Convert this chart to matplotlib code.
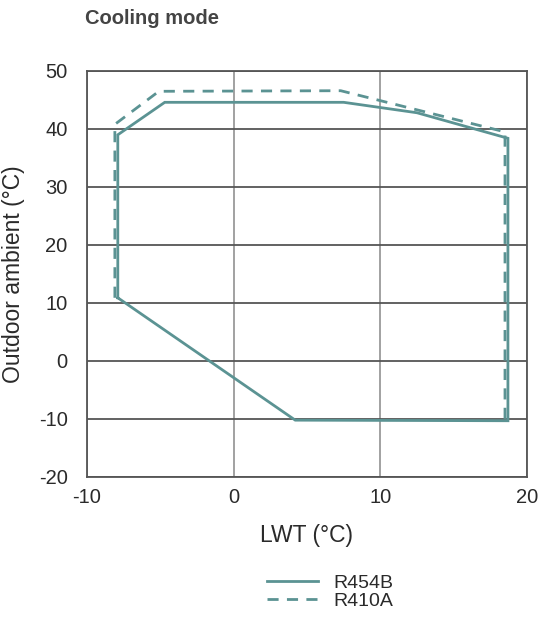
import matplotlib
matplotlib.use("Agg")
import matplotlib.pyplot as plt

# ─── Data (operating envelope, cooling mode) ─────────────────────
r454b_lwt = [-7.9, -7.9, -4.7, 7.5, 12.5, 18.7, 18.7, 4.2, -7.9]
r454b_amb = [10.9, 39.0, 44.6, 44.6, 42.8, 38.4, -10.3, -10.2, 10.9]

r410a_lwt = [-8.1, -8.1, -5.1, 7.3, 18.5, 18.5]
r410a_amb = [10.9, 40.8, 46.5, 46.6, 39.5, -10.2]

x_ticks = [-10, 0, 10, 20]
y_ticks = [-20, -10, 0, 10, 20, 30, 40, 50]

TEAL = "#5b9393"
TXT = "#2a2a2a"

plt.rcParams["font.family"] = ["Liberation Sans", "DejaVu Sans"]
plt.rcParams["axes.unicode_minus"] = False

fig = plt.figure(figsize=(5.41, 6.17), dpi=100)
ax = fig.add_axes([87 / 541, 1 - 477 / 617, 440 / 541, 406 / 617])

ax.plot(r454b_lwt, r454b_amb, color=TEAL, lw=2.0, solid_joinstyle="miter",
        label="R454B", zorder=3)
ax.plot(r410a_lwt, r410a_amb, color=TEAL, lw=2.0, ls=(0, (4, 3)),
        label="R410A", zorder=3)

ax.set_xlim(-10, 20)
ax.set_ylim(-20, 50)
ax.set_xticks(x_ticks)
ax.set_yticks(y_ticks)
ax.tick_params(axis="x", length=0, labelsize=14.5, labelcolor=TXT, pad=8)
ax.tick_params(axis="y", length=0, labelsize=14.5, labelcolor=TXT, pad=14)
for x in x_ticks:
    ax.axvline(x, color="#9a9a9a", lw=1.3, zorder=1)
for y in y_ticks:
    ax.axhline(y, color="#555555", lw=1.3, zorder=1)
for s in ax.spines.values():
    s.set_color("#555555")
    s.set_linewidth(1.3)

ax.set_xlabel("LWT (°C)", fontsize=16.5, color=TXT, labelpad=12)
ax.set_ylabel("Outdoor ambient (°C)", fontsize=16.5, color=TXT, labelpad=10)

fig.text(85 / 541, 1 - 18 / 617, "Cooling mode", fontsize=14.5, fontweight="bold",
         color="#444444", ha="left", va="center")

leg = fig.legend(loc="center", bbox_to_anchor=(330 / 541, 1 - 592 / 617),
                 frameon=False, fontsize=14, handlelength=2.6, handletextpad=0.8,
                 labelspacing=0.0, borderpad=0)
for t in leg.get_texts():
    t.set_color(TXT)

fig.savefig("out.png", dpi=100)
